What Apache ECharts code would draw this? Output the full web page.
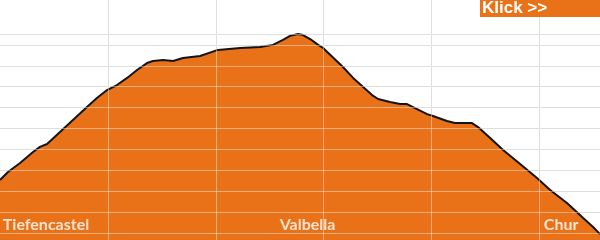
<!DOCTYPE html>
<html>
<head>
<meta charset="utf-8">
<script src="https://cdn.jsdelivr.net/npm/echarts@6/dist/echarts.min.js"></script>
<style>
html,body{margin:0;padding:0;background:#fff;}
#chart{width:600px;height:240px;}
</style>
</head>
<body>
<div id="chart"></div>
<script>
// Distance along route (km)
const distanceKm = [0.00,0.37,0.93,1.53,1.85,2.18,2.78,3.38,4.03,4.49,4.96,5.42,5.89,6.35,6.81,7.09,7.55,8.02,8.48,9.27,10.10,11.12,12.05,12.65,13.11,13.44,13.81,14.04,14.37,14.74,14.97,15.89,16.36,17.24,17.52,18.07,18.54,18.86,19.23,19.79,20.06,20.71,21.08,21.87,22.15,22.71,23.31,24.10,24.88,25.49,26.27,27.02,27.48,27.80];
// Elevation (m)
const elevationM = [854,892,935,988,1012,1026,1083,1141,1203,1246,1284,1308,1342,1380,1413,1423,1428,1423,1437,1447,1476,1485,1490,1500,1524,1543,1552,1547,1528,1500,1485,1394,1342,1260,1241,1227,1217,1217,1198,1169,1160,1136,1126,1126,1107,1055,997,930,863,806,744,672,629,595];
// Places
const placeNames = ['Tiefencastel','Valbella','Chur'];
const placeKm = [2.13, 14.25, 26.0];
const placeLabelElev = 641;
// Axis settings
const yMin = 500, yMax = 1552, yInterval = 100;
const xMin = 0, xMax = 27.8, xInterval = 5;
const buttonText = 'Klick >>';

const ORANGE = '#E97219';
const GRAY = '#c6c6c6';
const OVER = 'rgba(255,255,255,0.42)';

const chart = echarts.init(document.getElementById('chart'), null, {renderer:'canvas'});

const fullH = 254, gridBTop = 34;
const topElev = yMin + fullH / (fullH - gridBTop) * (yMax - yMin);

const profile = distanceKm.map((d, i) => [d, elevationM[i]]);
const places = placeNames.map((n, i) => ({name: n, value: [placeKm[i], placeLabelElev]}));

const hiddenBits = {axisLine:{show:false}, axisTick:{show:false}, axisLabel:{show:false}};

const option = {
  animation: false,
  grid: [
    {left:0, width:600, top:0, height:fullH, outerBoundsMode:'none', containLabel:false},
    {left:0, width:600, top:gridBTop, height:fullH - gridBTop, outerBoundsMode:'none', containLabel:false}
  ],
  xAxis: [
    Object.assign({gridIndex:0, type:'value', min:xMin, max:xMax, interval:xInterval,
      splitLine:{show:true, showMinLine:false, showMaxLine:false, lineStyle:{color:GRAY, width:1}}}, hiddenBits),
    Object.assign({gridIndex:0, type:'value', min:xMin, max:xMax, interval:xInterval, z:10,
      splitLine:{show:true, showMinLine:false, showMaxLine:false, lineStyle:{color:OVER, width:1}}}, hiddenBits),
    {gridIndex:1, type:'value', min:xMin, max:xMax, show:false}
  ],
  yAxis: [
    {gridIndex:0, type:'value', min:yMin, max:topElev, show:false},
    Object.assign({gridIndex:1, type:'value', min:yMin, max:yMax, interval:yInterval,
      splitLine:{show:true, showMaxLine:true, lineStyle:{color:GRAY, width:1}}}, hiddenBits),
    Object.assign({gridIndex:1, type:'value', min:yMin, max:yMax, interval:yInterval, z:10,
      splitLine:{show:true, showMaxLine:true, lineStyle:{color:OVER, width:1}}}, hiddenBits)
  ],
  series: [
    {
      type:'line', xAxisIndex:0, yAxisIndex:0, data:profile,
      showSymbol:false, clip:false, z:2,
      lineStyle:{color:'#141414', width:2},
      areaStyle:{color:ORANGE, opacity:1}
    },
    {
      type:'scatter', xAxisIndex:0, yAxisIndex:0, data:places,
      symbolSize:0, z:20, silent:true,
      label:{show:true, position:'inside', formatter:'{b}', color:'#fff',
        fontFamily:'Lato', fontWeight:'bold', fontSize:16, align:'center', verticalAlign:'middle'}
    }
  ],
  graphic: [
    {type:'rect', shape:{x:480, y:0, width:120, height:17}, style:{fill:ORANGE}, z:30},
    {type:'text', x:482, y:0, z:31, style:{text:buttonText, fill:'#fff',
      font:'bold 17px "Liberation Sans", Arial, sans-serif', textVerticalAlign:'top'}}
  ]
};
chart.setOption(option);
</script>
</body>
</html>
